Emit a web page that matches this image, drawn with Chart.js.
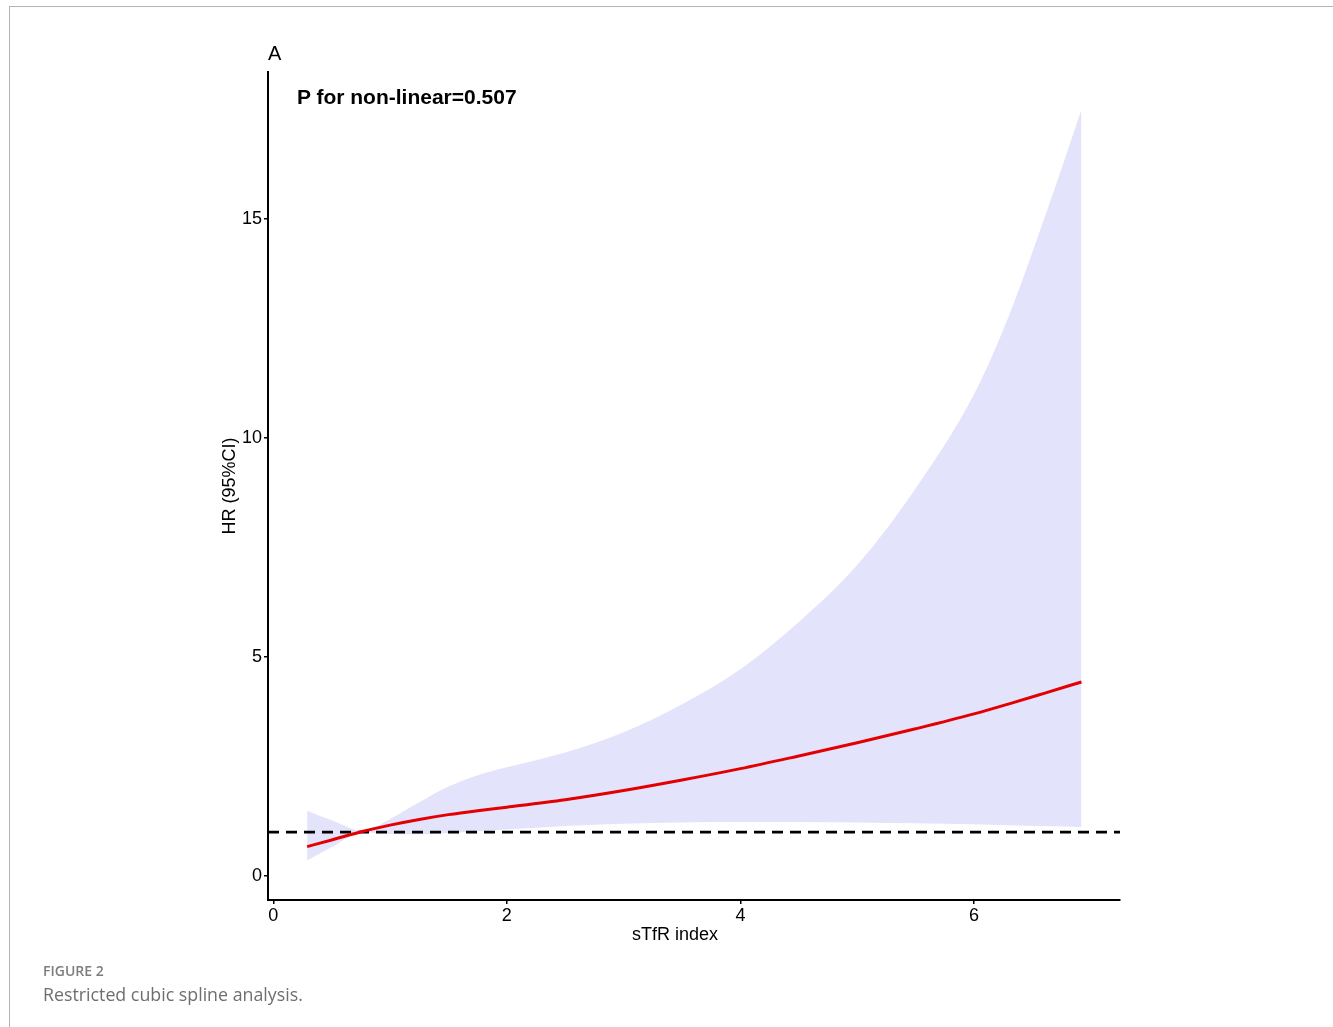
<!DOCTYPE html>
<html>
<head>
<meta charset="utf-8">
<script src="https://cdn.jsdelivr.net/npm/chart.js@4.4.1/dist/chart.umd.min.js"></script>
<style>
  html, body { margin: 0; padding: 0; background: #fff; }
  body { width: 1333px; height: 1027px; position: relative; overflow: hidden; }
  .frame { position: absolute; left: 9px; top: 6px; width: 1340px; height: 1100px;
           border-top: 1px solid #b4b4b4; border-left: 1px solid #b4b4b4; }
  #chart { position: absolute; left: 0; top: 0; }
  .panel { position: absolute; left: 268px; top: 43px; font: 20px/20px "Liberation Sans", Arial, sans-serif; color: #000; }
  .pval { position: absolute; left: 297px; top: 86px; font: bold 21px/21px "Liberation Sans", Arial, sans-serif; color: #000; }
  .xtitle { position: absolute; left: 632px; top: 925px; font: 18px/18px "Liberation Sans", Arial, sans-serif; color: #000; }
  .fig { position: absolute; left: 43px; top: 963px; font: 600 14px/16px "Open Sans", sans-serif; color: #7d7d7d; }
  .cap { position: absolute; left: 43px; top: 983px; font: 17.8px/22px "Open Sans", sans-serif; color: #6e6e6e; }
</style>
</head>
<body>
<div class="frame"></div>
<canvas id="chart" width="1333" height="1027"></canvas>
<div class="panel">A</div>
<div class="pval">P for non-linear=0.507</div>
<div class="xtitle">sTfR index</div>
<div class="fig">FIGURE 2</div>
<div class="cap">Restricted cubic spline analysis.</div>
<script>
// values
const sTfR  = [0.29, 0.5, 0.77, 1.0, 1.25, 1.5, 1.75, 2.0, 2.5, 3.0, 3.5, 4.0, 4.5, 5.0, 5.5, 6.0, 6.3, 6.6, 6.92];
const hr    = [0.67, 0.82, 1.02, 1.16, 1.29, 1.40, 1.49, 1.57, 1.74, 1.95, 2.19, 2.45, 2.74, 3.04, 3.36, 3.70, 3.93, 4.17, 4.43];
const lower = [0.35, 0.66, 1.00, 0.96, 0.95, 0.98, 1.02, 1.06, 1.14, 1.19, 1.22, 1.23, 1.23, 1.22, 1.20, 1.18, 1.16, 1.14, 1.12];
const upper = [1.49, 1.27, 1.03, 1.30, 1.68, 2.04, 2.30, 2.48, 2.82, 3.28, 3.92, 4.72, 5.80, 7.10, 8.85, 11.0, 12.8, 15.0, 17.5];
const refHR = 1;
const xTicks = [0, 2, 4, 6];
const yTicks = [0, 5, 10, 15];

const xMin = -0.045, xMax = 7.25;
const yMin = -0.55, yMax = 18.36;

const pts = ys => sTfR.map((x, i) => ({ x: x, y: ys[i] }));
const axisFont = { family: '"Liberation Sans", Arial, sans-serif', size: 18 };

new Chart(document.getElementById('chart'), {
  type: 'line',
  data: {
    datasets: [
      { data: pts(hr), borderColor: '#e30000', borderWidth: 3, pointRadius: 0,
        cubicInterpolationMode: 'monotone', fill: false, order: 0 },
      { data: [{ x: xMin, y: refHR }, { x: xMax, y: refHR }], borderColor: '#000', borderWidth: 2.6,
        borderDash: [11, 7], pointRadius: 0, fill: false, order: 1 },
      { data: pts(upper), borderWidth: 0, borderColor: 'rgba(0,0,0,0)', pointRadius: 0,
        cubicInterpolationMode: 'monotone', fill: '+1', backgroundColor: '#e3e3fb', order: 2 },
      { data: pts(lower), borderWidth: 0, borderColor: 'rgba(0,0,0,0)', pointRadius: 0,
        cubicInterpolationMode: 'monotone', fill: false, order: 3 }
    ]
  },
  options: {
    responsive: false,
    devicePixelRatio: 1,
    animation: false,
    layout: { padding: { left: 219, top: 72, right: 213, bottom: 77 } },
    plugins: { legend: { display: false }, tooltip: { enabled: false } },
    scales: {
      x: {
        type: 'linear', min: xMin, max: xMax,
        afterFit: s => { s.height = 50; },
        afterBuildTicks: s => { s.ticks = xTicks.map(v => ({ value: v })); },
        ticks: { font: axisFont, color: '#000', padding: 1, includeBounds: false },
        grid: { drawOnChartArea: false, drawTicks: true, tickLength: 4, color: '#000', lineWidth: 1.5 },
        border: { display: true, color: '#000', width: 2 },
        title: { display: false }
      },
      y: {
        type: 'linear', min: yMin, max: yMax,
        afterFit: s => { s.width = 49; },
        afterBuildTicks: s => { s.ticks = yTicks.map(v => ({ value: v })); },
        ticks: { font: axisFont, color: '#000', padding: 2, includeBounds: false },
        grid: { drawOnChartArea: false, drawTicks: true, tickLength: 4, color: '#000', lineWidth: 1.5 },
        border: { display: true, color: '#000', width: 2 },
        title: { display: true, text: 'HR (95%CI)', font: axisFont, color: '#000', padding: { top: 0, bottom: 0 } }
      }
    }
  }
});
</script>
</body>
</html>
